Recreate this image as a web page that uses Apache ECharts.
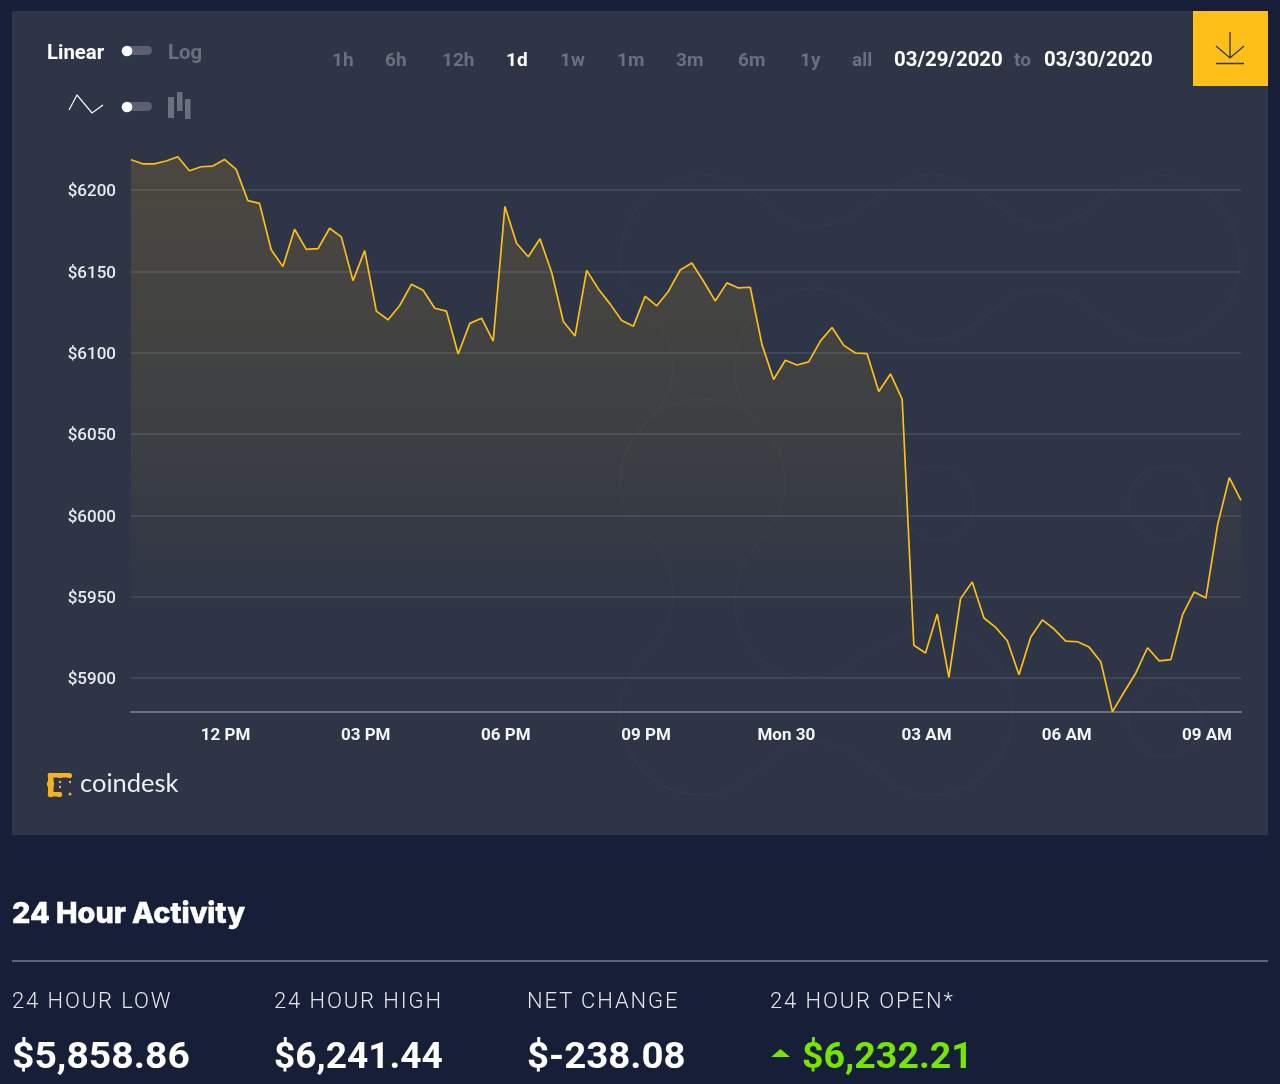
<!DOCTYPE html>
<html><head><meta charset="utf-8">
<script src="https://cdn.jsdelivr.net/npm/echarts@6/dist/echarts.min.js"></script>
<style>
html,body{margin:0;padding:0;background:#161e38;width:1280px;height:1084px;overflow:hidden}
#card{position:absolute;left:12px;top:11px;width:1256px;height:824px;background:#2e3547}
#deco,#icons{position:absolute;left:0;top:0;width:1280px;height:1084px;pointer-events:none}
#chart{position:absolute;left:0;top:0;width:1280px;height:1084px}
.t{position:absolute;white-space:nowrap;line-height:1;transform:translateY(-50%);font-family:Roboto,sans-serif}
.ui{font-size:19px;font-weight:700;color:#6b7081}
.wide{font-size:20.4px}
.on{color:#fff}
.lab{font-size:22px;font-weight:300;color:#e4e6ea;letter-spacing:1.9px}
.val{font-size:36px;font-weight:700;color:#fff;transform-origin:left center}
#hr{position:absolute;left:12px;top:960px;width:1256px;height:2px;background:#5e6475}
#dl{position:absolute;left:1193px;top:11px;width:75px;height:75px;background:#fec018}
</style></head><body>
<div id="card"></div>
<svg id="deco" viewBox="0 0 1280 1084"><g fill="none" stroke="#343b4d" stroke-width="1.1">
<path d="M620 260 C620 215 655 175 703 175 C755 175 770 226 814 226 C865 226 880 175 930 175 C985 175 1000 226 1044 226 C1095 226 1110 175 1158 175 C1205 175 1240 215 1240 260 C1240 305 1205 340 1158 340 C1105 340 1090 289 1044 289 C995 289 980 340 931 340 C880 340 865 288 814 288 C770 288 735 325 735 370 C735 430 785 430 785 482 C785 535 735 545 735 602 C735 645 770 677 806 677 C860 677 875 630 930 630 C975 630 1013 665 1013 712 C1013 758 975 795 930 795 C880 795 865 742 815 742 C770 742 750 795 703 795 C655 795 620 758 620 712 C620 660 673 645 673 595 C673 535 620 530 620 480 C620 425 673 420 673 367 C673 310 620 310 620 260 Z"/>
<path d="M621 480 A82 82 0 0 1 785 482"/>
<circle cx="937" cy="503" r="37"/><circle cx="1165" cy="503" r="37"/><circle cx="1165" cy="720" r="37"/>
</g></svg>
<div id="chart"></div>
<div id="dl"></div>
<svg id="icons" viewBox="0 0 1280 1084">
<rect x="122" y="46" width="30" height="9" rx="4.5" fill="#5a5f72"/><circle cx="127" cy="51" r="5.3" fill="#fff"/>
<rect x="122" y="102" width="30" height="9" rx="4.5" fill="#5a5f72"/><circle cx="127" cy="107" r="5.3" fill="#fff"/>
<polyline points="69,110 77,95 92,113 103,105" fill="none" stroke="#fff" stroke-width="1.2"/>
<rect x="168" y="97" width="6" height="21" fill="#6b7081"/><rect x="177" y="92" width="5.5" height="19" fill="#6b7081"/><rect x="185" y="99" width="5.5" height="20" fill="#6b7081"/>
<g fill="none" stroke="#2e3547" stroke-width="1.3"><path d="M1230 32V58M1216 46L1230 58L1244 46M1216 63.5H1244"/></g>
<g fill="#f5b324"><rect x="48" y="774" width="5.5" height="22" rx="1.5"/><rect x="48" y="773" width="23" height="4.5" rx="2.2"/><rect x="48" y="792" width="14" height="4.5" rx="2.2"/>
<circle cx="50.5" cy="784" r="3.6"/><circle cx="50.5" cy="775.5" r="2.8"/><circle cx="50.5" cy="794.5" r="2.8"/><circle cx="60" cy="775.5" r="2.6"/><circle cx="69.5" cy="775.5" r="2.6"/><circle cx="59.5" cy="794.5" r="2.6"/>
<circle cx="60" cy="782" r="1.2"/><circle cx="60" cy="787" r="1.2"/><circle cx="70" cy="782" r="1.2"/><circle cx="70" cy="794" r="1.5"/></g>
<polygon points="771,1057 790,1057 780.5,1049" fill="#76e600"/>
</svg>
<div id="hr"></div>
<div id="texts"></div>
<script>
// ---------- data ----------
const categories = ["10:00","10:15","10:30","10:45","11:00","11:15","11:30","11:45","12:00","12:15","12:30","12:45","13:00","13:15","13:30","13:45","14:00","14:15","14:30","14:45","15:00","15:15","15:30","15:45","16:00","16:15","16:30","16:45","17:00","17:15","17:30","17:45","18:00","18:15","18:30","18:45","19:00","19:15","19:30","19:45","20:00","20:15","20:30","20:45","21:00","21:15","21:30","21:45","22:00","22:15","22:30","22:45","23:00","23:15","23:30","23:45","00:00","00:15","00:30","00:45","01:00","01:15","01:30","01:45","02:00","02:15","02:30","02:45","03:00","03:15","03:30","03:45","04:00","04:15","04:30","04:45","05:00","05:15","05:30","05:45","06:00","06:15","06:30","06:45","07:00","07:15","07:30","07:45","08:00","08:15","08:30","08:45","09:00","09:15","09:30","09:45"];
const prices = [6218.6,6216.1,6216.1,6217.8,6220.4,6211.8,6214.3,6214.7,6218.8,6212.7,6193.5,6191.8,6163.3,6152.9,6175.9,6163.5,6163.9,6176.5,6171.2,6144.3,6162.7,6125.5,6120.2,6129,6142,6138.4,6127.3,6125.5,6099.2,6118,6121.2,6107.1,6189.8,6167.3,6159,6170,6149.4,6119.2,6110.2,6150.6,6139.2,6130,6119.8,6116.3,6134.7,6128.8,6137.8,6150.8,6155.1,6143.9,6131.8,6142.9,6139.8,6140.2,6105.1,6083.5,6095.3,6092.4,6094.3,6107.1,6115.5,6104.5,6099.8,6099.4,6076.1,6086.9,6071.5,5920.1,5915.4,5939.3,5900.4,5948.8,5959,5936.9,5931.1,5922.9,5902,5925,5935.7,5930.1,5922.7,5922.3,5919,5910,5879.3,5891.4,5903.1,5918.6,5910.5,5911.3,5938.9,5952.9,5949.2,5994.3,6023.2,6009.2];
const yTicks = [5900,5950,6000,6050,6100,6150,6200];
const xTickTimes = ["12:00","15:00","18:00","21:00","00:00","03:00","06:00","09:00"];
const xTickLabels = ["12 PM","03 PM","06 PM","09 PM","Mon 30","03 AM","06 AM","09 AM"];
const rangeButtons = ["1h","6h","12h","1d","1w","1m","3m","6m","1y","all"];
const rangeLefts = [332,385,442,506,560,617,676,738,800,852];
const statLabels = ["24 HOUR LOW","24 HOUR HIGH","NET CHANGE","24 HOUR OPEN*"];
const statValues = ["$5,858.86","$6,241.44","$-238.08","$6,232.21"];
const statLefts = [12,274,527,770];
const statWidths = [178,169,159,171];

// ---------- page text ----------
const box = document.getElementById('texts');
function put(txt, left, cy, cls, extra){
  const s = document.createElement('span');
  s.className = 't ' + cls; s.textContent = txt;
  s.style.left = left + 'px'; s.style.top = cy + 'px';
  if (extra) s.style.cssText += extra;
  box.appendChild(s);
  return s;
}
put('Linear',47,51.5,'ui wide on');
put('Log',168,51.5,'ui wide');
rangeButtons.forEach((b,i)=>put(b,rangeLefts[i],58.5,'ui'+(b==='1d'?' on':'')));
put('03/29/2020',894,58.5,'ui wide on');
put('to',1014,58.5,'ui');
put('03/30/2020',1044,58.5,'ui wide on');
put('coindesk',80,782.5,'', 'font-family:Lato,sans-serif;font-size:25.5px;font-weight:400;color:#eef0f3');
put('24 Hour Activity',12,913,'', 'font-family:Inter,sans-serif;font-size:28.8px;font-weight:800;color:#fff;-webkit-text-stroke:0.5px #fff');
statLabels.forEach((t,i)=>put(t,statLefts[i],1001,'lab'));
statValues.forEach((t,i)=>{
  const s = put(t,i===3?802:statLefts[i],1056,'val',i===3?'color:#76e600':'');
  s.style.transform = 'translateY(-50%) scaleX(' + (statWidths[i]/s.offsetWidth) + ')';
});

// ---------- chart ----------
const chart = echarts.init(document.getElementById('chart'),null,{renderer:'canvas'});
chart.setOption({
  animation:false,
  grid:{left:131,width:1110,top:141.2,height:570.8,containLabel:false},
  xAxis:{type:'category',data:categories,boundaryGap:false,
    axisLine:{show:true,lineStyle:{color:'#6c7180',width:2}},
    axisTick:{show:false},splitLine:{show:false},
    axisLabel:{fontFamily:'Roboto',fontSize:17,fontWeight:700,color:'#f4f5f7',margin:15,padding:[0,0,0,2],
      interval:(i,v)=>xTickTimes.includes(v),
      formatter:v=>xTickLabels[xTickTimes.indexOf(v)]}},
  yAxis:{type:'value',min:5879.1,max:6230,
    axisLine:{show:false},
    axisTick:{show:false,customValues:yTicks},
    splitLine:{show:true,lineStyle:{color:'#3e465a',width:2}},
    axisLabel:{margin:15,customValues:yTicks,formatter:v=>'{a|$'+v+'}',
      rich:{a:{fontFamily:'Roboto',fontSize:17,fontWeight:500,color:'#e8eaee',padding:[4,0,0,0]}}}},
  series:[{type:'line',data:prices,symbol:'none',smooth:false,
    lineStyle:{color:'#fdbf17',width:1.7},
    areaStyle:{origin:'start',color:{type:'linear',x:0,y:160,x2:0,y2:625,global:true,colorStops:[
      {offset:0,color:'rgba(255,192,25,0.2)'},
      {offset:0.52,color:'rgba(255,192,25,0.12)'},
      {offset:0.7,color:'rgba(255,192,25,0.08)'},
      {offset:1,color:'rgba(255,192,25,0)'}]}}}]
});
</script>
</body></html>
